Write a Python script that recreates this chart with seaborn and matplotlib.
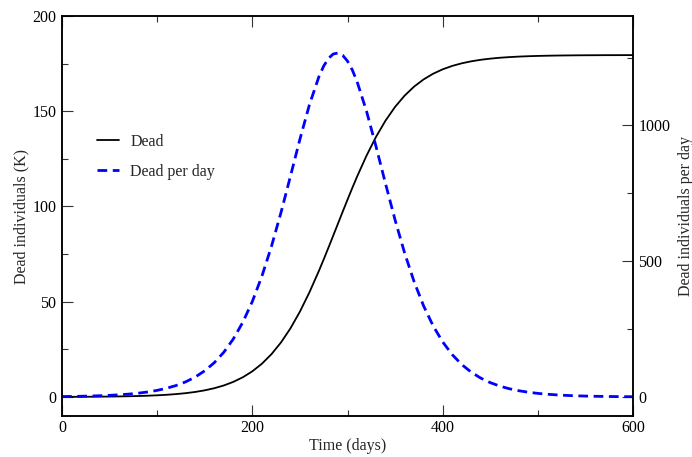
import matplotlib
matplotlib.use('Agg')
import matplotlib.pyplot as plt
import seaborn as sns
import pandas as pd
from matplotlib.ticker import MultipleLocator
from matplotlib.lines import Line2D

# valori
days = [0, 10, 20, 30, 40, 50, 60, 70, 80, 90, 100, 110, 120, 130, 140, 150,
        160, 170, 180, 190, 200, 210, 220, 230, 240, 250, 260, 270, 275, 280,
        285, 290, 295, 300, 305, 310, 320, 330, 340, 350, 360, 370, 380, 390,
        400, 410, 420, 430, 440, 450, 460, 470, 480, 490, 500, 510, 520, 530,
        540, 550, 560, 570, 580, 590, 600]
dead_k = [0.05, 0.07, 0.09, 0.12, 0.16, 0.21, 0.28, 0.37, 0.49, 0.65, 0.86,
          1.14, 1.51, 1.99, 2.63, 3.48, 4.58, 6.03, 7.91, 10.34, 13.46, 17.42,
          22.40, 28.54, 35.98, 44.79, 54.93, 66.24, 72.24, 78.41, 84.69, 91.02,
          97.33, 103.57, 109.67, 115.60, 126.69, 136.58, 145.11, 152.29,
          158.19, 162.94, 166.73, 169.70, 172.01, 173.79, 175.16, 176.21,
          177.01, 177.61, 178.08, 178.42, 178.69, 178.89, 179.04, 179.15,
          179.24, 179.30, 179.35, 179.39, 179.41, 179.44, 179.45, 179.46, 179.47]
dead_per_day = [1.5, 1.9, 2.6, 3.4, 4.5, 5.9, 7.9, 10.4, 13.8, 18.3, 24.2, 32.0,
                42.2, 55.7, 73.3, 96.3, 126.1, 164.5, 213.4, 275.1, 351.5, 444.2,
                553.4, 677.7, 812.3, 949.1, 1076.3, 1180.0, 1218.8, 1246.8,
                1263.0, 1266.7, 1258.0, 1236.9, 1204.6, 1161.9, 1052.3, 922.1,
                784.9, 651.8, 530.3, 424.3, 335.0, 261.6, 202.8, 156.0, 119.5,
                91.2, 69.4, 52.7, 39.9, 30.2, 22.9, 17.3, 13.1, 9.9, 7.5, 5.6,
                4.2, 3.2, 2.4, 1.8, 1.4, 1.0, 0.8]

df = pd.DataFrame({'days': days, 'dead': dead_k, 'per_day': dead_per_day})

sns.set_theme(style='ticks')
plt.rcParams['font.family'] = ['Liberation Serif', 'DejaVu Serif']
plt.rcParams['font.size'] = 11.5

fig = plt.figure(figsize=(6.92, 4.57), dpi=100)
ax = fig.add_axes([62/692, 41/457, 571/692, 400/457])
ax2 = ax.twinx()

sns.lineplot(data=df, x='days', y='dead', ax=ax, color='black', linewidth=1.3)
sns.lineplot(data=df, x='days', y='per_day', ax=ax2, color='#0000ff',
             linewidth=2.0, dashes=False)
ax2.lines[0].set_dashes([3.5, 2.0])

ax.set_xlim(0, 600)
ax.set_ylim(-10, 200)
ax2.set_ylim(-70.2, 1403)

ax.xaxis.set_major_locator(MultipleLocator(200))
ax.xaxis.set_minor_locator(MultipleLocator(100))
ax.yaxis.set_major_locator(MultipleLocator(50))
ax.yaxis.set_minor_locator(MultipleLocator(25))
ax2.yaxis.set_major_locator(MultipleLocator(500))
ax2.yaxis.set_minor_locator(MultipleLocator(250))

ax.tick_params(axis='both', which='both', direction='in', width=0.8,
               colors='#333333', labelcolor='black', labelsize=11.5, pad=4)
ax.tick_params(axis='x', which='both', top=True, pad=3)
ax.tick_params(which='major', length=8)
ax.tick_params(which='minor', length=4.5)
ax2.tick_params(axis='y', which='both', direction='in', width=0.8,
                colors='#333333', labelcolor='black', labelsize=11.5, pad=4)
ax2.tick_params(which='major', length=8)
ax2.tick_params(which='minor', length=4.5)

for a in (ax, ax2):
    for s in a.spines.values():
        s.set_visible(True)
        s.set_linewidth(1.1)
        s.set_color('black')

ax.set_xlabel('Time (days)', fontsize=11.5, labelpad=1)
ax.set_ylabel('Dead individuals (K)', fontsize=11.5, labelpad=2)
ax2.set_ylabel('Dead individuals per day', fontsize=11.5, labelpad=5)

handles = [Line2D([], [], color='black', linewidth=1.3),
           Line2D([], [], color='#0000ff', linewidth=2.0, dashes=[3.5, 2.0])]
ax.legend(handles, ['Dead', 'Dead per day'], loc='center left',
          bbox_to_anchor=(0.061, 0.648), frameon=False, borderpad=0,
          borderaxespad=0, handlelength=1.4, handletextpad=0.7,
          labelspacing=0.85, fontsize=11.5)

fig.savefig('out.png', dpi=100)
